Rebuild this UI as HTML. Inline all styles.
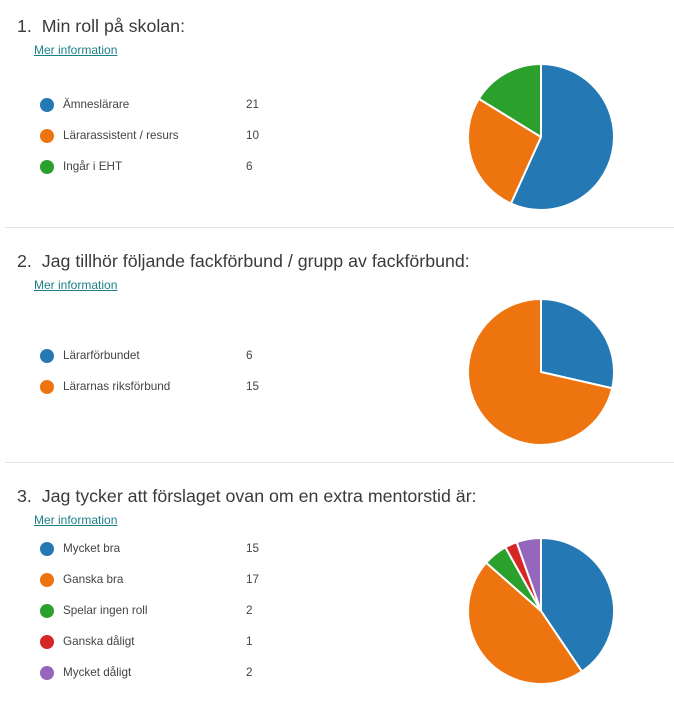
<!DOCTYPE html>
<html><head><meta charset="utf-8"><style>
body{margin:0;width:674px;height:703px;background:#fff;font-family:"Liberation Sans",sans-serif;position:relative;overflow:hidden}
.t{position:absolute;left:17px;font-size:17.8px;color:#3a3a3a;white-space:nowrap}
.m{position:absolute;left:34px;font-size:12px;color:#1b7f86;text-decoration:underline}
.r{position:absolute;left:40px;font-size:11.7px;color:#444;height:16px;line-height:16px}
.r i{position:absolute;left:0;top:1px;width:14px;height:14px;border-radius:50%}
.r span{position:absolute;left:23px;white-space:nowrap}
.r b{position:absolute;left:206px;font-weight:normal}
.hr{position:absolute;left:5px;width:669px;height:1px;background:#e5e5e5}
svg{position:absolute;left:0;top:0}
</style></head><body>
<div class="t" style="top:16px">1.&nbsp; Min roll på skolan:</div>
<div class="m" style="top:43px">Mer information</div>
<div class="r" style="top:97px"><i style="background:#2479b5"></i><span>Ämneslärare</span><b>21</b></div>
<div class="r" style="top:128px"><i style="background:#ee7410"></i><span>Lärarassistent / resurs</span><b>10</b></div>
<div class="r" style="top:159px"><i style="background:#2ca02c"></i><span>Ingår i EHT</span><b>6</b></div>
<div class="hr" style="top:227px"></div>
<div class="t" style="top:251px">2.&nbsp; Jag tillhör följande fackförbund / grupp av fackförbund:</div>
<div class="m" style="top:278px">Mer information</div>
<div class="r" style="top:348px"><i style="background:#2479b5"></i><span>Lärarförbundet</span><b>6</b></div>
<div class="r" style="top:379px"><i style="background:#ee7410"></i><span>Lärarnas riksförbund</span><b>15</b></div>
<div class="hr" style="top:462px"></div>
<div class="t" style="top:486px">3.&nbsp; Jag tycker att förslaget ovan om en extra mentorstid är:</div>
<div class="m" style="top:513px">Mer information</div>
<div class="r" style="top:541px"><i style="background:#2479b5"></i><span>Mycket bra</span><b>15</b></div>
<div class="r" style="top:572px"><i style="background:#ee7410"></i><span>Ganska bra</span><b>17</b></div>
<div class="r" style="top:603px"><i style="background:#2ca02c"></i><span>Spelar ingen roll</span><b>2</b></div>
<div class="r" style="top:634px"><i style="background:#d62728"></i><span>Ganska dåligt</span><b>1</b></div>
<div class="r" style="top:665px"><i style="background:#9467bd"></i><span>Mycket dåligt</span><b>2</b></div>
<svg id="s" width="674" height="703"></svg>
<script>
var C=["#2479b5","#ee7410","#2ca02c","#d62728","#9467bd"];
function pie(cx,cy,r,v){var t=v.reduce((a,b)=>a+b,0),a=0,h="";
v.forEach(function(x,i){var b=a+x/t*2*Math.PI;
var x1=cx+r*Math.sin(a),y1=cy-r*Math.cos(a),x2=cx+r*Math.sin(b),y2=cy-r*Math.cos(b);
h+='<path d="M'+cx+' '+cy+'L'+x1+' '+y1+'A'+r+' '+r+' 0 '+(b-a>Math.PI?1:0)+' 1 '+x2+' '+y2+'Z" fill="'+C[i]+'" stroke="#fff" stroke-width="2" stroke-linejoin="round"/>';a=b;});return h;}
document.getElementById("s").innerHTML=pie(541,137,73,[21,10,6])+pie(541,372,73,[6,15])+pie(541,611,73,[15,17,2,1,2]);
</script>
</body></html>
